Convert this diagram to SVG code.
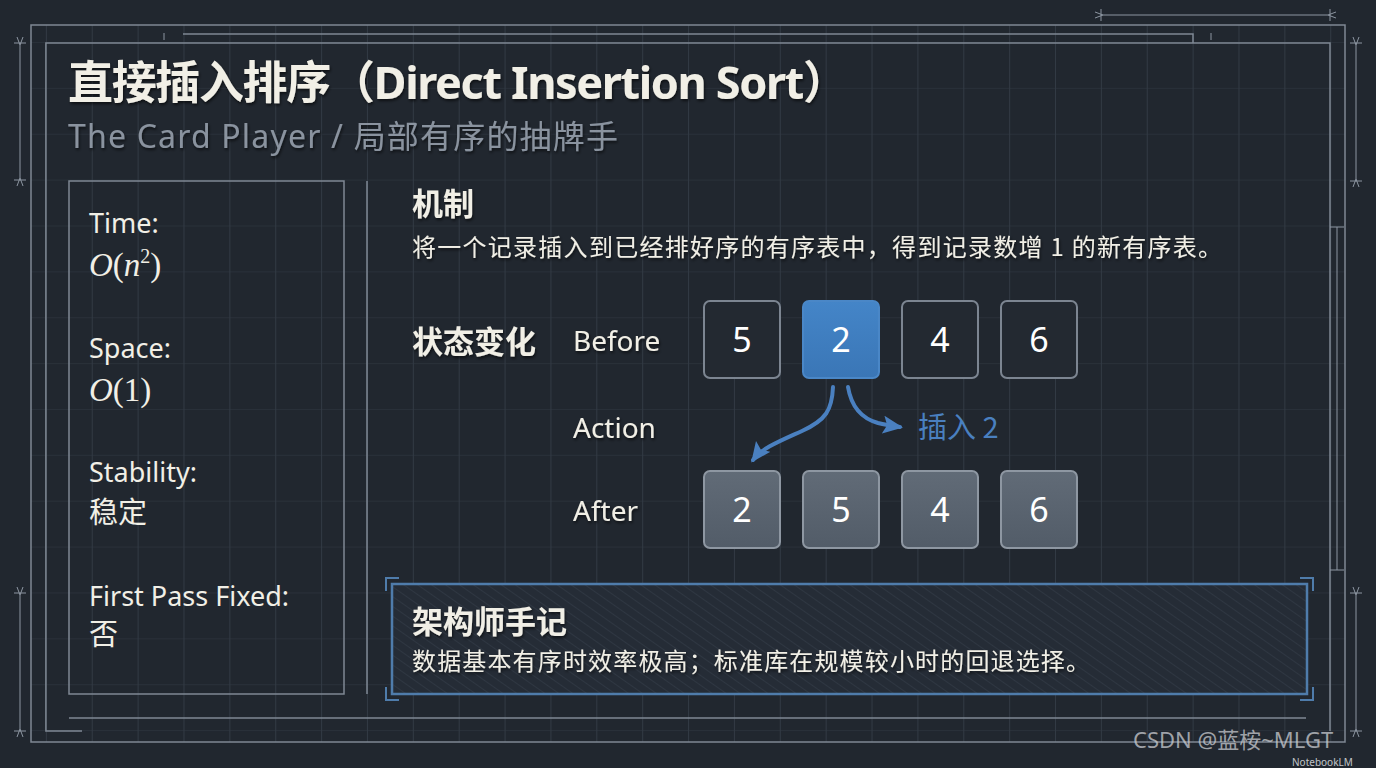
<svg xmlns="http://www.w3.org/2000/svg" width="1376" height="768" viewBox="0 0 1376 768">
<defs>
  <pattern id="grid" x="0" y="-2.87" width="45.87" height="45.87" patternUnits="userSpaceOnUse">
    <path d="M0.5,0 V45.87 M0,45.87 H45.87" fill="none" stroke="#323a44" stroke-width="1"/>
  </pattern>
  <pattern id="hatch" width="8" height="8" patternUnits="userSpaceOnUse" patternTransform="rotate(-55)">
    <rect width="8" height="8" fill="#252c36"/>
    <line x1="0" y1="0" x2="0" y2="8" stroke="#2f3742" stroke-width="2"/>
  </pattern>
  <linearGradient id="grayBox" x1="0" y1="0" x2="0" y2="1">
    <stop offset="0" stop-color="#616b77"/>
    <stop offset="1" stop-color="#525c68"/>
  </linearGradient>
  <linearGradient id="blueBox" x1="0" y1="0" x2="0" y2="1">
    <stop offset="0" stop-color="#4485c8"/>
    <stop offset="1" stop-color="#3a76b6"/>
  </linearGradient>
  <marker id="arr" markerUnits="userSpaceOnUse" markerWidth="22" markerHeight="20" refX="17" refY="9" orient="auto">
    <path d="M0,0 L20,9 L0,18 L4,9 Z" fill="#4a80c0"/>
  </marker>
  <marker id="dimA" markerUnits="userSpaceOnUse" markerWidth="10" markerHeight="8" refX="0" refY="4" orient="auto-start-reverse">
    <path d="M0,4 L8,1 M0,4 L8,7" stroke="#8d96a2" stroke-width="1" fill="none"/>
  </marker>
  <filter id="sh" x="-5%" y="-20%" width="110%" height="140%">
    <feDropShadow dx="1" dy="2" stdDeviation="1.5" flood-color="#000" flood-opacity="0.6"/>
  </filter>
</defs>
<style>
  .frame{fill:none;stroke:#7f8894;stroke-width:1.5}
  .thin{fill:none;stroke:#8d96a2;stroke-width:1}
  .lbl{font-family:"Noto Sans","Noto Sans CJK SC",sans-serif;fill:#f1efe6}
  .cjk{font-family:"Noto Sans CJK SC","Noto Sans",sans-serif;fill:#f1efe6}
  .math{font-family:"Liberation Serif","DejaVu Serif",serif;fill:#f1efe6;font-size:33px}
  .num{font-family:"Noto Sans","Noto Sans CJK SC",sans-serif;fill:#ffffff;font-size:34px;text-anchor:middle}
  .boxD{fill:#232931;stroke:#7c8591;stroke-width:2}
  .boxB{fill:url(#blueBox);stroke:#4a87c7;stroke-width:2}
  .boxG{fill:url(#grayBox);stroke:#8e97a2;stroke-width:2}
  .conn{fill:none;stroke:#4a80c0;stroke-width:4;stroke-linecap:round}
  .brk{fill:none;stroke:#4f7cab;stroke-width:2}
</style>

<!-- background -->
<rect width="1376" height="768" fill="#21272f"/>
<rect x="31" y="25" width="1314" height="717" fill="url(#grid)"/>

<!-- frames -->
<g id="frame">
  <rect class="frame" x="31" y="25" width="1314" height="717"/>
  <path class="frame" d="M82,731 H45.9 V43 H1330 V731"/>
  <path class="frame" d="M183,34 H1193 V43"/>
  <path class="thin" d="M164,33 V40 M1211,33 V40"/>
  <path class="frame" d="M69,718 H1306"/>
  <path class="thin" d="M1337,227 V570 M1330,227 H1344 M1330,570 H1344"/>
  <!-- dimension lines -->
  <path class="thin" d="M1101,9 V21 M1330,9 V21" />
  <line class="thin" x1="1103" y1="15" x2="1328" y2="15" marker-start="url(#dimA)" marker-end="url(#dimA)"/>
  <path class="thin" d="M14,43 H26 M14,180 H26 M14,593 H26 M14,731 H26"/>
  <line class="thin" x1="20" y1="45" x2="20" y2="178" marker-start="url(#dimA)" marker-end="url(#dimA)"/>
  <line class="thin" x1="20" y1="595" x2="20" y2="729" marker-start="url(#dimA)" marker-end="url(#dimA)"/>
  <path class="thin" d="M1350,43 H1362 M1350,181 H1362 M1350,593 H1362 M1350,731 H1362"/>
  <line class="thin" x1="1356" y1="45" x2="1356" y2="179" marker-start="url(#dimA)" marker-end="url(#dimA)"/>
  <line class="thin" x1="1356" y1="595" x2="1356" y2="729" marker-start="url(#dimA)" marker-end="url(#dimA)"/>
</g>

<!-- title -->
<g id="title" filter="url(#sh)">
  <text class="lbl" x="68" y="99" font-size="45" font-weight="bold" textLength="780" lengthAdjust="spacing">直接插入排序（Direct Insertion Sort）</text>
  <text x="68" y="148" font-size="32" font-family="Noto Sans, Noto Sans CJK SC, sans-serif" fill="#8a939f" textLength="550" lengthAdjust="spacing">The Card Player / 局部有序的抽牌手</text>
</g>

<!-- left properties card -->
<g id="props">
  <rect x="69" y="181" width="275" height="513" fill="none" stroke="#7f8894" stroke-width="1.5"/>
  <line x1="367" y1="181" x2="367" y2="694" stroke="#7f8894" stroke-width="1.5"/>
  <text class="lbl" x="89" y="233" font-size="27">Time:</text>
  <text class="math" x="89" y="276"><tspan font-style="italic">O</tspan>(<tspan font-style="italic">n</tspan><tspan font-size="20" dy="-13">2</tspan><tspan dy="13">)</tspan></text>
  <text class="lbl" x="89" y="358" font-size="27">Space:</text>
  <text class="math" x="89" y="401"><tspan font-style="italic">O</tspan>(1)</text>
  <text class="lbl" x="89" y="482" font-size="27">Stability:</text>
  <text class="cjk" x="89" y="523" font-size="29">稳定</text>
  <text class="lbl" x="89" y="606" font-size="27">First Pass Fixed:</text>
  <text class="cjk" x="89" y="645" font-size="29">否</text>
</g>

<!-- mechanism -->
<g id="mechanism" filter="url(#sh)">
  <text class="cjk" x="412" y="215" font-size="31" font-weight="bold">机制</text>
  <text class="cjk" x="412" y="256" font-size="24" textLength="810" lengthAdjust="spacing">将一个记录插入到已经排好序的有序表中，得到记录数增 1 的新有序表。</text>
</g>

<!-- state change labels -->
<g id="state-labels" filter="url(#sh)">
  <text class="cjk" x="412" y="353" font-size="31" font-weight="bold">状态变化</text>
  <text class="lbl" x="573" y="351" font-size="28">Before</text>
  <text class="lbl" x="573" y="438" font-size="28">Action</text>
  <text class="lbl" x="573" y="521" font-size="28">After</text>
</g>

<!-- before row -->
<g id="before-5"><rect class="boxD" x="704" y="301" width="76" height="77" rx="6"/><text class="num" x="742" y="352">5</text></g>
<g id="before-2"><rect class="boxB" x="803" y="301" width="76" height="77" rx="6"/><text class="num" x="841" y="352">2</text></g>
<g id="before-4"><rect class="boxD" x="902" y="301" width="76" height="77" rx="6"/><text class="num" x="940" y="352">4</text></g>
<g id="before-6"><rect class="boxD" x="1001" y="301" width="76" height="77" rx="6"/><text class="num" x="1039" y="352">6</text></g>

<!-- after row -->
<g id="after-2"><rect class="boxG" x="704" y="471" width="76" height="77" rx="6"/><text class="num" x="742" y="522">2</text></g>
<g id="after-5"><rect class="boxG" x="803" y="471" width="76" height="77" rx="6"/><text class="num" x="841" y="522">5</text></g>
<g id="after-4"><rect class="boxG" x="902" y="471" width="76" height="77" rx="6"/><text class="num" x="940" y="522">4</text></g>
<g id="after-6"><rect class="boxG" x="1001" y="471" width="76" height="77" rx="6"/><text class="num" x="1039" y="522">6</text></g>

<!-- connectors -->
<g id="connectors">
  <path class="conn" d="M833,387 C832,410 826,420 802,431 C780,441 762,448 753,460" marker-end="url(#arr)"/>
  <path class="conn" d="M848,387 C851,405 860,418 878,423 C886,425 893,426 900,427" marker-end="url(#arr)"/>
  <text x="918" y="438" font-size="29" font-family="Noto Sans CJK SC, Noto Sans, sans-serif" fill="#4a80c0">插入 2</text>
</g>

<!-- architect note -->
<g id="note">
  <rect x="392" y="584" width="915" height="110" fill="url(#hatch)" stroke="#4f7cab" stroke-width="2.5"/>
  <path class="brk" d="M386,591 V578 H399 M1300,578 H1313 V591 M386,687 V700 H399 M1300,700 H1313 V687"/>
  <text class="cjk" x="412" y="633" font-size="31" font-weight="bold" filter="url(#sh)">架构师手记</text>
  <text class="cjk" x="412" y="670" font-size="24" textLength="678" lengthAdjust="spacing" filter="url(#sh)">数据基本有序时效率极高；标准库在规模较小时的回退选择。</text>
</g>

<!-- watermark -->
<g id="watermark">
  <text x="1133" y="748" font-size="22" font-family="Noto Sans, Noto Sans CJK SC, sans-serif" fill="#c9ccd1" fill-opacity="0.75">CSDN @蓝桉~MLGT</text>
  <text x="1292" y="766" font-size="10" font-family="Noto Sans, sans-serif" fill="#e0e2e6" fill-opacity="0.85">NotebookLM</text>
</g>
</svg>
